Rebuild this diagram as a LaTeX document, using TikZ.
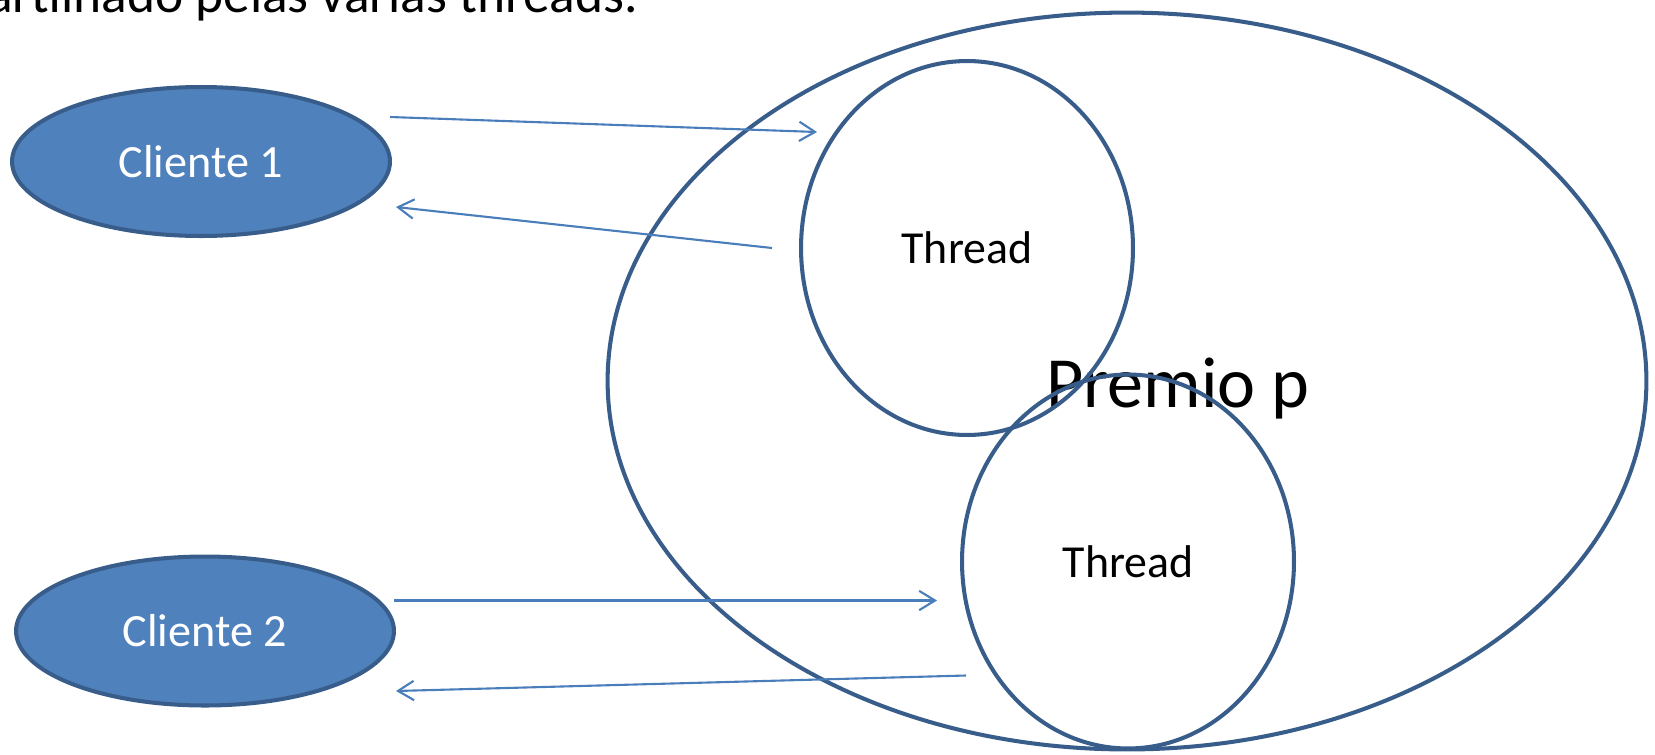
\documentclass[tikz,border=0pt]{standalone}
\usepackage{fontspec}
\setmainfont{Carlito}
\usetikzlibrary{shapes.geometric,arrows.meta}
\definecolor{azul}{HTML}{4F81BD}
\definecolor{borda}{HTML}{385D8A}
\definecolor{azulseta}{HTML}{4A7EBB}

\begin{document}
\begin{tikzpicture}[x=0.02cm,y=-0.02cm,
    cliente/.style={ellipse, draw=borda, fill=azul, line width=2.3pt, inner sep=0pt,
        minimum width=7.56cm, minimum height=2.98cm, text=white, font=\fontsize{26.3}{31}\selectfont},
    thread/.style={ellipse, draw=borda, line width=2.3pt, inner sep=0pt,
        minimum width=6.64cm, minimum height=7.48cm, font=\fontsize{26.1}{31}\selectfont},
    msg/.style={draw=azulseta, line width=1.2pt, -{Straight Barb[length=9pt,width=11pt]}}]
    \useasboundingbox (0,0) rectangle (1655,754);
    \clip (0,0) rectangle (1655,754);

    % texto cortado no topo
    \node[anchor=base west, inner sep=0pt, font=\fontsize{30.4}{36}\selectfont] (topo) at (-41,12) {partilhado pelas várias threads.};

    % servidor
    \node[anchor=base, inner sep=0pt, font=\fontsize{41}{49}\selectfont] (premiotxt) at (1178,407) {Premio p};
    \node[ellipse, draw=borda, line width=2.3pt, inner sep=0pt, minimum width=20.78cm, minimum height=14.74cm] (premio) at (1127,381) {};
    \node[thread] (t1) at (967,248) {Thread};
    \node[thread] (t2) at (1128,561.5) {Thread};

    % clientes
    \node[cliente] (c1) at (201,161.5) {Cliente 1};
    \node[cliente] (c2) at (205,631) {Cliente 2};

    \coordinate (c1out) at (390,117);
    \coordinate (t1in) at (817,132);
    \coordinate (t1out) at (772,248);
    \coordinate (c1in) at (396,207);
    \coordinate (c2out) at (394,600.5);
    \coordinate (t2in) at (937,600.5);
    \coordinate (t2out) at (966,675.5);
    \coordinate (c2in) at (396,691);

    \draw[msg] (c1out) -- (t1in);
    \draw[msg] (t1out) -- (c1in);
    \draw[msg] (c2out) -- (t2in);
    \draw[msg] (t2out) -- (c2in);
\end{tikzpicture}
\end{document}
